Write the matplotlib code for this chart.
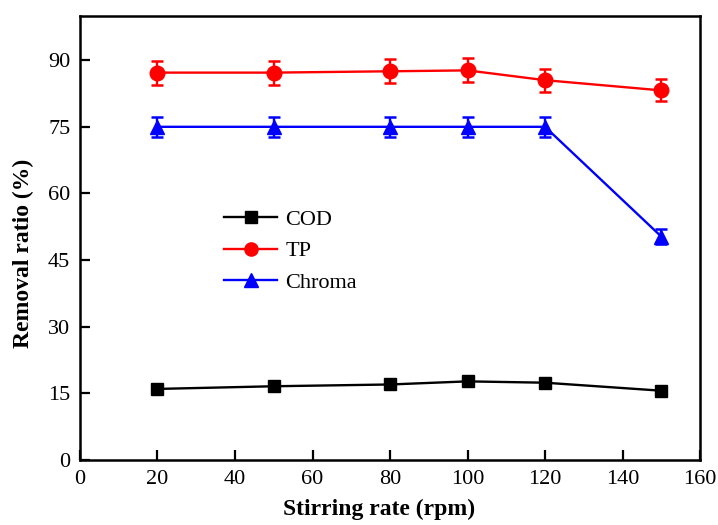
import matplotlib.pyplot as plt
from matplotlib.lines import Line2D

plt.rcParams['font.family'] = ['Liberation Serif', 'DejaVu Serif']

rate = [20, 50, 80, 100, 120, 150]
cod = [16.0, 16.6, 17.0, 17.7, 17.4, 15.6]
cod_err = [0.6, 0.6, 0.6, 0.6, 0.6, 0.6]
tp = [87.2, 87.2, 87.5, 87.7, 85.5, 83.2]
tp_err = [2.7, 2.7, 2.7, 2.7, 2.6, 2.5]
chroma = [75.0, 75.0, 75.0, 75.0, 75.0, 50.3]
chroma_err = [2.2, 2.2, 2.2, 2.2, 2.2, 1.6]

fig = plt.figure(figsize=(7.18, 5.25), dpi=100)
ax = fig.add_axes([0.1114, 0.1238, 0.8636, 0.8462])

style = dict(lw=1.7, capsize=4.5, capthick=1.8, elinewidth=1.7)
ax.errorbar(rate, cod, yerr=cod_err, color='black', marker='s', ms=9, **style)
ax.errorbar(rate, tp, yerr=tp_err, color='red', marker='o', ms=10.5, **style)
ax.errorbar(rate, chroma, yerr=chroma_err, color='blue', marker='^', ms=10.5, **style)

ax.set_xlim(0, 160)
ax.set_ylim(0, 100)
ax.set_xticks(range(0, 161, 20))
ax.set_yticks(range(0, 91, 15))
ax.tick_params(direction='in', length=7, width=1.6, labelsize=16, pad=7)
for s in ax.spines.values():
    s.set_linewidth(1.8)

ax.set_xlabel('Stirring rate (rpm)', fontsize=17, fontweight='bold')
ax.set_ylabel('Removal ratio (%)', fontsize=17, fontweight='bold')
ax.xaxis.set_label_coords(0.482, -0.088)
ax.yaxis.set_label_coords(-0.074, 0.466)

handles = [Line2D([], [], color='black', marker='s', ms=8, lw=1.7),
           Line2D([], [], color='red', marker='o', ms=9.5, lw=1.7),
           Line2D([], [], color='blue', marker='^', ms=9.5, lw=1.7)]
ax.legend(handles, ['COD', 'TP', 'Chroma'], loc='center left',
          bbox_to_anchor=(0.2, 0.47), frameon=False, fontsize=16,
          handlelength=2.4, handletextpad=0.35, labelspacing=0.5)

fig.savefig('out.png', dpi=100)
